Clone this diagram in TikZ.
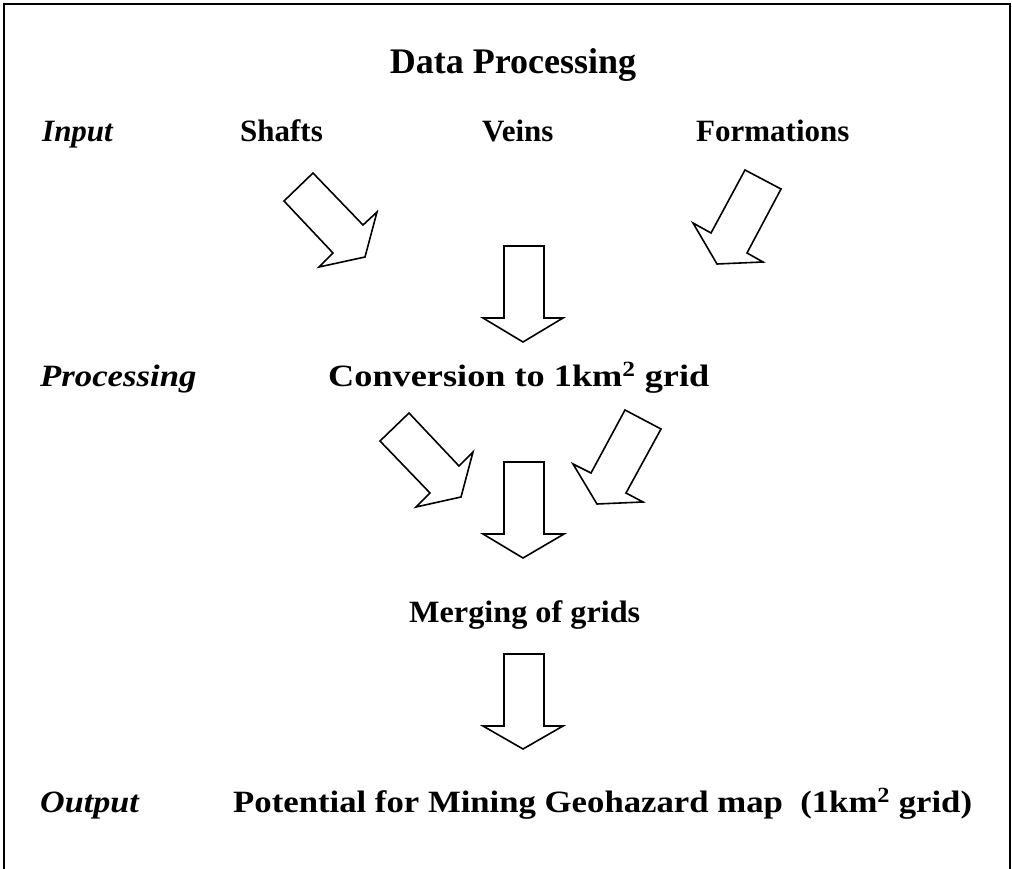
\documentclass[tikz,border=0pt]{standalone}
\usepackage{fontspec}
\setmainfont{Liberation Serif}
\usepackage{tikz}
\usetikzlibrary{positioning}
\tikzset{
  frame/.style={line width=2.4pt, line cap=rect},
  blockarrow/.style={draw, line width=1.6pt, line join=miter, fill=white},
  title/.style={font=\fontsize{36}{40}\selectfont\bfseries, anchor=base, inner sep=0pt},
  item/.style={font=\fontsize{31}{36}\selectfont\bfseries, anchor=base west, inner sep=0pt},
  stage/.style={font=\fontsize{31}{36}\selectfont\bfseries\itshape, anchor=base west, inner sep=0pt},
  wide/.style={xscale=#1, transform shape}
}

\begin{document}
\begin{tikzpicture}[x=1pt, y=-1pt]
  \useasboundingbox (0,0) rectangle (1012,869);
  % open frame (no bottom edge)
  \draw[frame] (4,869) -- (4,4) -- (1010,4) -- (1010,869);

  \node[title] (head) at (513,74) {Data Processing};

  % stage labels
  \node[stage] (input) at (42,142) {Input};
  \node[stage, wide=1.12] (proc) at (40,386) {Processing};
  \node[stage, wide=1.1] (output) at (40,812) {Output};

  % input layers
  \node[item] (shafts) at (240,142) {Shafts};
  \node[item] (veins) at (482,142) {Veins};
  \node[item] (forms) at (696,142) {Formations};

  \node[item, wide=1.17] (grid) at (328,386) {Conversion to 1km\textsuperscript{2} grid};
  \node[item, wide=1.04] (merge) at (409,622) {Merging of grids};
  \node[item, wide=1.12] (map) at (233,812) {Potential for Mining Geohazard map\ \ (1km\textsuperscript{2} grid)};

  % block arrows, first row
  \draw[blockarrow] (284,201) -- (313,173) -- (363,225) -- (377,212) -- (365,257) -- (319,267) -- (333,253) -- cycle;
  \draw[blockarrow] (504,246) -- (544,246) -- (544,318) -- (563,318) -- (523,342) -- (483,318) -- (504,318) -- cycle;
  \draw[blockarrow] (745,170) -- (781,189) -- (747,253) -- (763,262) -- (717,264) -- (693,223) -- (711,233) -- cycle;

  % second row
  \draw[blockarrow] (380,441) -- (409,413) -- (459,466) -- (473,452) -- (461,497) -- (416,507) -- (430,493) -- cycle;
  \draw[blockarrow] (504,462) -- (544,462) -- (544,534) -- (564,534) -- (523,558) -- (483,534) -- (504,534) -- cycle;
  \draw[blockarrow] (625,410) -- (661,429) -- (626,493) -- (643,502) -- (597,504) -- (573,464) -- (591,473) -- cycle;

  % merged grid to map
  \draw[blockarrow] (504,654) -- (544,654) -- (544,726) -- (563,726) -- (523,749) -- (483,726) -- (504,726) -- cycle;
\end{tikzpicture}
\end{document}
